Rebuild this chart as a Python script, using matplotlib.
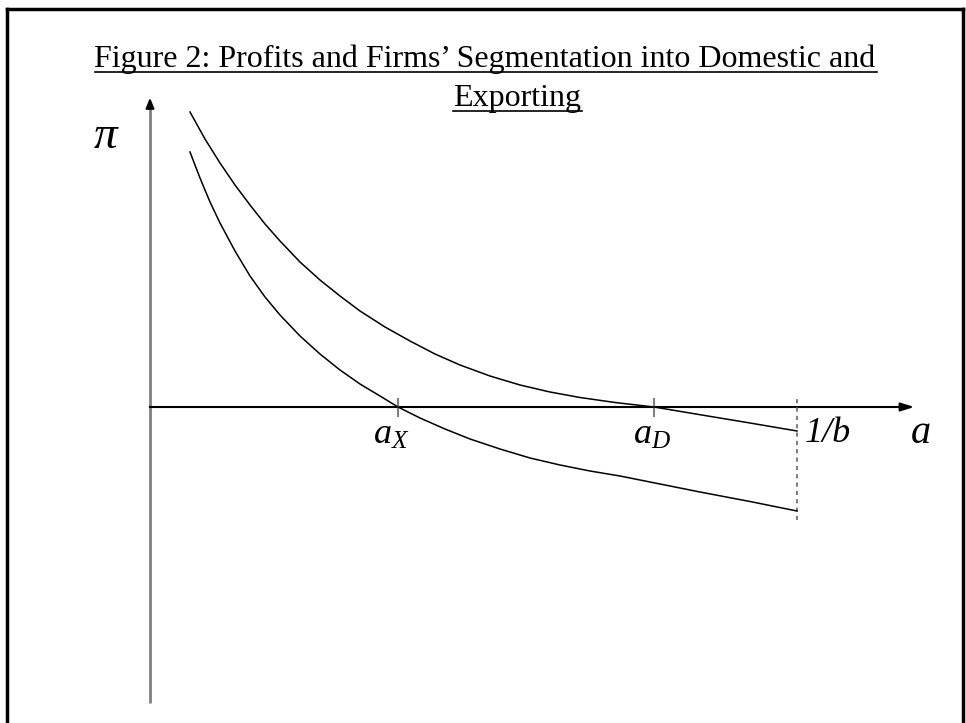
import matplotlib
matplotlib.use("Agg")
import matplotlib.pyplot as plt
from matplotlib.lines import Line2D

plt.rcParams['mathtext.fontset'] = 'custom'
plt.rcParams['mathtext.rm'] = 'Liberation Serif'
plt.rcParams['mathtext.it'] = 'Liberation Serif:italic'

# Profit curves (a on x, profit on y)
a_upper = [40, 55, 70, 85, 100, 115, 130, 150, 170, 190, 210, 235, 260, 285, 310, 340, 370,
           400, 430, 465, 504, 550, 600, 647]
pi_domestic = [295, 268, 244, 222, 202, 183, 166, 145, 127, 111, 96, 80, 66, 53, 42, 31, 22,
               15, 9.5, 4.5, 0, -7.7, -16, -24]
a_lower = [40, 50, 60, 70, 85, 100, 115, 130, 150, 170, 190, 210, 230, 248, 270, 295, 320, 350,
           380, 410, 440, 470, 500, 550, 600, 647]
pi_export = [255, 229, 205, 184, 156, 131, 110, 92, 71, 53, 37, 23, 11, 0, -11, -22, -32, -42,
             -51, -58, -64, -69, -75, -85, -94.5, -104]

a_X = 248
a_D = 504
a_max = 647
tick_labels = [r'$a_X$', r'$a_D$']

fig = plt.figure(figsize=(9.66, 7.23), dpi=100)
ax = fig.add_axes([0, 0, 1, 1])
ax.set_xlim(-150, 816)
ax.set_ylim(-316, 407)
ax.axis('off')

# frame
fig.add_artist(Line2D([7 / 966, 7 / 966], [0, 1 - 9 / 723], color='black', lw=2.5, transform=fig.transFigure))
fig.add_artist(Line2D([963 / 966, 963 / 966], [0, 1 - 9 / 723], color='black', lw=2.5, transform=fig.transFigure))
fig.add_artist(Line2D([7 / 966, 963 / 966], [1 - 9 / 723, 1 - 9 / 723], color='black', lw=2.5, transform=fig.transFigure))

# axes
ax.plot([0, 0], [-296, 304], color='#808080', lw=2, solid_capstyle='butt')
ax.annotate('', xy=(0, 312), xytext=(0, 300),
            arrowprops=dict(arrowstyle='-|>,head_length=0.6,head_width=0.25', color='black', lw=1.5))
ax.plot([0, 760], [0, 0], color='black', lw=1.5)
ax.annotate('', xy=(767, 0), xytext=(750, 0),
            arrowprops=dict(arrowstyle='-|>,head_length=0.8,head_width=0.25', color='black', lw=1.5))

# ticks
for t in (a_X, a_D):
    ax.plot([t, t], [-9, 8], color='#808080', lw=1.5)

# dotted boundary at 1/b
ax.plot([a_max, a_max], [-113, 9], color='#808080', lw=1.5, ls=(0, (2, 2)))

# curves
ax.plot(a_upper, pi_domestic, color='black', lw=1.1)
ax.plot(a_lower, pi_export, color='black', lw=1.1)

# labels
ax.text(a_X - 25, -10, tick_labels[0], fontsize=26, ha='left', va='top')
ax.text(a_D - 21, -10, tick_labels[1], fontsize=26, ha='left', va='top')
ax.text(a_max + 8, -10, '1/b', fontsize=26, style='italic', family='Liberation Serif', ha='left', va='top')
ax.text(761, -8, 'a', fontsize=29, style='italic', family='Liberation Serif', ha='left', va='top')
ax.text(-44, 272, r'$\pi$', fontsize=34, ha='center', va='center')

# title
fig.text(485 / 966, 1 - 67 / 723, 'Figure 2: Profits and Firms\u2019 Segmentation into Domestic and',
         fontsize=23, family='Liberation Serif', ha='center', va='baseline')
fig.text(517 / 966, 1 - 106 / 723, 'Exporting', fontsize=23, family='Liberation Serif',
         ha='center', va='baseline')
fig.add_artist(Line2D([95 / 966, 877 / 966], [1 - 72 / 723, 1 - 72 / 723], color='black', lw=1.2, transform=fig.transFigure))
fig.add_artist(Line2D([453 / 966, 582 / 966], [1 - 111 / 723, 1 - 111 / 723], color='black', lw=1.2, transform=fig.transFigure))

fig.savefig('out.png', dpi=100)
